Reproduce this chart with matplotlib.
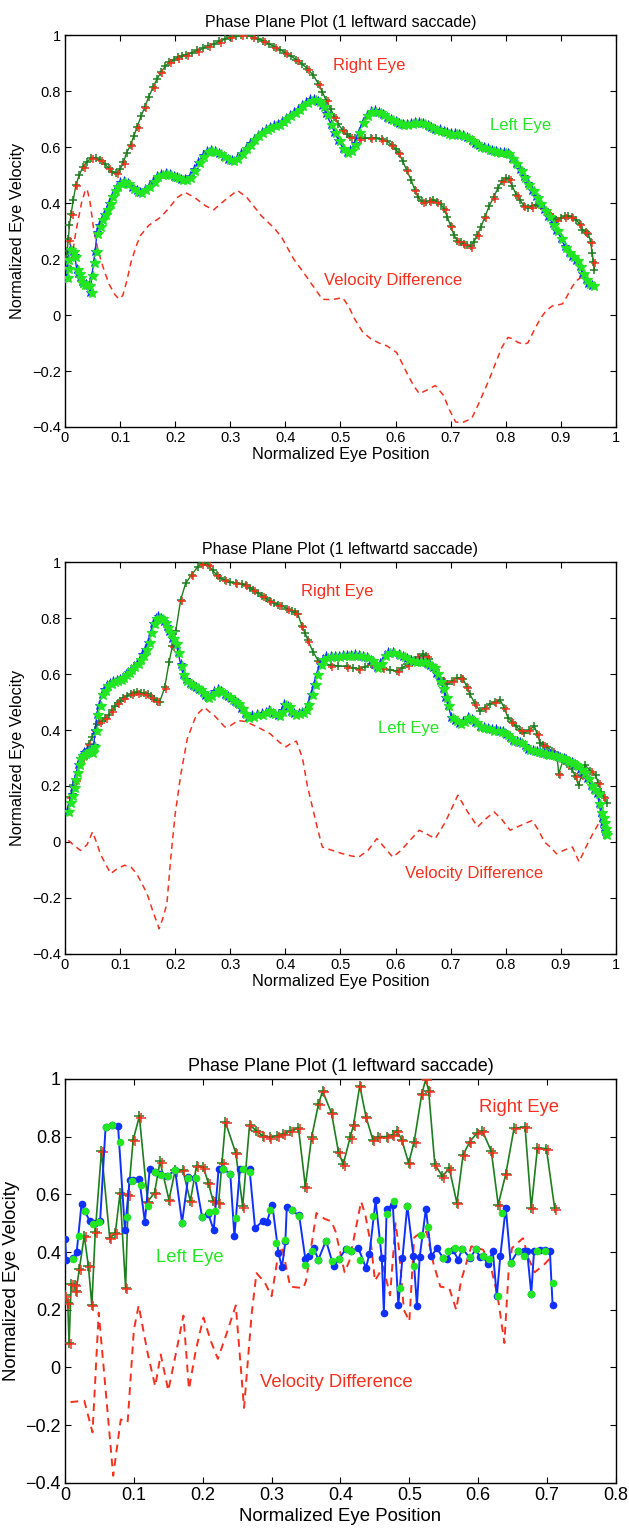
import numpy as np
import matplotlib
matplotlib.use("Agg")
import matplotlib.pyplot as plt
from matplotlib.transforms import offset_copy

plt.rcParams['font.family'] = ['Liberation Sans', 'DejaVu Sans']

# colours (MATLAB-like)
RED = "#f5301e"
DKGREEN = "#1e7d1e"
LTGREEN = "#22e622"
BLUE = "#1030ff"

# ---------------- panel 1 data (position, velocity) ----------------
p1_right = np.array([
    [0.002, 0.20], [0.004, 0.23], [0.006, 0.27], [0.008, 0.32], [0.011, 0.36], [0.015, 0.41],
    [0.020, 0.466], [0.026, 0.50], [0.033, 0.53], [0.040, 0.548], [0.048, 0.56], [0.056, 0.56],
    [0.064, 0.554], [0.072, 0.54], [0.079, 0.525], [0.086, 0.51], [0.093, 0.507], [0.100, 0.52],
    [0.106, 0.545], [0.112, 0.58], [0.119, 0.607], [0.125, 0.64], [0.131, 0.672], [0.138, 0.71],
    [0.145, 0.743], [0.152, 0.78], [0.160, 0.814], [0.167, 0.843], [0.174, 0.867], [0.182, 0.888],
    [0.189, 0.903], [0.197, 0.912], [0.205, 0.92], [0.213, 0.925], [0.220, 0.93], [0.230, 0.937],
    [0.240, 0.945], [0.250, 0.952], [0.260, 0.96], [0.270, 0.968], [0.280, 0.977], [0.290, 0.985],
    [0.300, 0.993], [0.310, 0.998], [0.320, 1.0], [0.330, 0.999], [0.340, 0.995], [0.350, 0.987],
    [0.360, 0.979], [0.370, 0.969], [0.380, 0.958], [0.390, 0.948], [0.400, 0.937], [0.410, 0.925],
    [0.420, 0.912], [0.430, 0.897], [0.440, 0.88], [0.450, 0.858], [0.460, 0.826], [0.467, 0.797],
    [0.474, 0.767], [0.482, 0.737], [0.489, 0.708], [0.496, 0.682], [0.504, 0.66], [0.511, 0.645],
    [0.518, 0.637], [0.526, 0.633], [0.535, 0.631], [0.545, 0.631], [0.555, 0.632], [0.565, 0.631],
    [0.575, 0.627], [0.585, 0.62], [0.593, 0.608], [0.600, 0.592], [0.606, 0.578], [0.613, 0.55],
    [0.620, 0.518], [0.628, 0.483], [0.635, 0.447], [0.641, 0.42], [0.648, 0.406], [0.655, 0.402],
    [0.662, 0.408], [0.668, 0.412], [0.675, 0.405], [0.682, 0.395], [0.688, 0.38], [0.694, 0.35],
    [0.700, 0.317], [0.706, 0.285], [0.712, 0.265], [0.718, 0.26], [0.724, 0.255], [0.730, 0.25],
    [0.736, 0.245], [0.742, 0.26], [0.748, 0.285], [0.755, 0.315], [0.762, 0.35], [0.770, 0.39],
    [0.778, 0.42], [0.786, 0.455], [0.794, 0.48], [0.800, 0.489], [0.806, 0.485], [0.812, 0.46],
    [0.819, 0.43], [0.826, 0.41], [0.833, 0.39], [0.840, 0.382], [0.847, 0.388], [0.854, 0.394],
    [0.862, 0.394], [0.870, 0.38], [0.877, 0.364], [0.885, 0.35], [0.892, 0.341], [0.900, 0.345],
    [0.907, 0.352], [0.913, 0.355], [0.920, 0.35], [0.928, 0.341], [0.934, 0.325], [0.939, 0.305],
    [0.945, 0.298], [0.950, 0.29], [0.954, 0.26], [0.957, 0.22], [0.959, 0.19], [0.961, 0.162],
])

p1_left = np.array([
    [0.003, 0.137], [0.004, 0.17], [0.005, 0.20], [0.009, 0.237], [0.014, 0.23], [0.018, 0.213],
    [0.021, 0.166], [0.024, 0.15], [0.027, 0.137], [0.030, 0.12], [0.033, 0.113], [0.038, 0.11],
    [0.043, 0.107], [0.046, 0.083], [0.049, 0.142], [0.052, 0.19], [0.055, 0.23], [0.058, 0.295],
    [0.062, 0.32], [0.067, 0.343], [0.071, 0.36], [0.076, 0.379], [0.080, 0.40], [0.085, 0.426],
    [0.090, 0.447], [0.094, 0.462], [0.100, 0.474], [0.107, 0.48], [0.114, 0.472], [0.122, 0.456],
    [0.130, 0.445], [0.137, 0.441], [0.145, 0.45], [0.152, 0.462], [0.160, 0.48], [0.167, 0.497],
    [0.175, 0.505], [0.183, 0.509], [0.190, 0.505], [0.197, 0.498], [0.204, 0.493], [0.211, 0.487],
    [0.218, 0.485], [0.226, 0.495], [0.234, 0.52], [0.242, 0.548], [0.250, 0.57], [0.258, 0.585],
    [0.265, 0.59], [0.272, 0.587], [0.280, 0.578], [0.288, 0.567], [0.296, 0.558], [0.304, 0.553],
    [0.312, 0.56], [0.320, 0.578], [0.328, 0.598], [0.335, 0.613], [0.343, 0.63], [0.350, 0.643],
    [0.357, 0.654], [0.365, 0.664], [0.372, 0.672], [0.380, 0.678], [0.387, 0.684], [0.394, 0.693],
    [0.401, 0.703], [0.408, 0.714], [0.416, 0.725], [0.423, 0.737], [0.430, 0.75], [0.438, 0.761],
    [0.445, 0.77], [0.452, 0.773], [0.460, 0.765], [0.467, 0.749], [0.474, 0.72], [0.482, 0.684],
    [0.489, 0.655], [0.496, 0.625], [0.504, 0.598], [0.511, 0.583], [0.518, 0.59], [0.526, 0.613],
    [0.533, 0.655], [0.540, 0.69], [0.548, 0.715], [0.555, 0.728], [0.562, 0.731], [0.570, 0.726],
    [0.577, 0.717], [0.584, 0.708], [0.592, 0.70], [0.600, 0.692], [0.607, 0.687], [0.613, 0.684],
    [0.620, 0.684], [0.628, 0.687], [0.635, 0.69], [0.643, 0.69], [0.650, 0.686], [0.658, 0.678],
    [0.665, 0.671], [0.672, 0.666], [0.680, 0.663], [0.687, 0.658], [0.694, 0.652], [0.700, 0.649],
    [0.708, 0.65], [0.715, 0.648], [0.722, 0.643], [0.730, 0.637], [0.738, 0.626], [0.745, 0.614],
    [0.752, 0.606], [0.760, 0.601], [0.768, 0.595], [0.775, 0.59], [0.782, 0.585], [0.789, 0.583],
    [0.797, 0.583], [0.804, 0.578], [0.811, 0.562], [0.818, 0.542], [0.826, 0.52], [0.833, 0.495],
    [0.840, 0.47], [0.848, 0.447], [0.855, 0.424], [0.862, 0.40], [0.870, 0.377], [0.877, 0.353],
    [0.885, 0.327], [0.892, 0.304], [0.900, 0.275], [0.907, 0.245], [0.914, 0.225], [0.921, 0.21],
    [0.928, 0.198], [0.934, 0.175], [0.939, 0.15], [0.945, 0.128], [0.950, 0.115], [0.957, 0.107],
])

p1_diff = np.array([
    [0.006, 0.12], [0.012, 0.20], [0.020, 0.30], [0.030, 0.40], [0.036, 0.44], [0.040, 0.45],
    [0.045, 0.41], [0.052, 0.308], [0.060, 0.23], [0.070, 0.166], [0.080, 0.11], [0.091, 0.072],
    [0.098, 0.057], [0.105, 0.07], [0.112, 0.12], [0.120, 0.19], [0.130, 0.25], [0.137, 0.284],
    [0.152, 0.32], [0.174, 0.35], [0.190, 0.385], [0.204, 0.42], [0.218, 0.438], [0.235, 0.42],
    [0.255, 0.39], [0.270, 0.376], [0.290, 0.41], [0.313, 0.445], [0.330, 0.42], [0.357, 0.353],
    [0.380, 0.31], [0.394, 0.275], [0.415, 0.20], [0.438, 0.138], [0.455, 0.09], [0.467, 0.056],
    [0.485, 0.055], [0.504, 0.062], [0.515, 0.03], [0.526, -0.015], [0.540, -0.06], [0.555, -0.085],
    [0.570, -0.10], [0.584, -0.11], [0.602, -0.134], [0.610, -0.165], [0.620, -0.205], [0.632, -0.25],
    [0.643, -0.281], [0.655, -0.27], [0.672, -0.252], [0.687, -0.287], [0.698, -0.34], [0.709, -0.382],
    [0.720, -0.385], [0.738, -0.37], [0.750, -0.32], [0.760, -0.275], [0.772, -0.22], [0.782, -0.169],
    [0.793, -0.115], [0.804, -0.08], [0.813, -0.085], [0.822, -0.098], [0.833, -0.104], [0.840, -0.10],
    [0.850, -0.06], [0.862, -0.015], [0.873, 0.015], [0.884, 0.032], [0.893, 0.035], [0.903, 0.04],
    [0.912, 0.07], [0.921, 0.103], [0.930, 0.125], [0.939, 0.138], [0.950, 0.144],
])

# ---------------- panel 2 data ----------------
p2_right = np.array([
    [0.009, 0.161], [0.015, 0.203], [0.020, 0.221], [0.027, 0.28], [0.032, 0.30], [0.037, 0.321],
    [0.043, 0.35], [0.049, 0.374], [0.054, 0.40], [0.058, 0.421], [0.062, 0.428], [0.067, 0.433],
    [0.073, 0.443], [0.079, 0.453], [0.085, 0.47], [0.091, 0.486], [0.096, 0.496], [0.100, 0.504],
    [0.106, 0.514], [0.113, 0.522], [0.120, 0.528], [0.126, 0.532], [0.131, 0.534], [0.138, 0.533],
    [0.144, 0.531], [0.150, 0.528], [0.156, 0.52], [0.162, 0.51], [0.167, 0.505], [0.172, 0.501],
    [0.181, 0.552], [0.189, 0.643], [0.195, 0.70], [0.201, 0.753], [0.210, 0.865], [0.219, 0.924],
    [0.230, 0.955], [0.241, 0.983], [0.248, 0.995], [0.254, 1.0], [0.260, 0.99], [0.268, 0.97],
    [0.275, 0.955], [0.281, 0.944], [0.290, 0.935], [0.299, 0.927], [0.310, 0.925], [0.321, 0.923],
    [0.328, 0.917], [0.335, 0.909], [0.342, 0.90], [0.350, 0.89], [0.358, 0.88], [0.365, 0.87],
    [0.372, 0.861], [0.380, 0.853], [0.387, 0.848], [0.394, 0.843], [0.403, 0.834], [0.412, 0.825],
    [0.418, 0.82], [0.423, 0.813], [0.430, 0.771], [0.436, 0.745], [0.441, 0.72], [0.450, 0.68],
    [0.460, 0.646], [0.470, 0.636], [0.482, 0.631], [0.495, 0.629], [0.511, 0.627], [0.522, 0.623],
    [0.533, 0.619], [0.544, 0.625], [0.555, 0.636], [0.566, 0.628], [0.577, 0.621], [0.590, 0.615],
    [0.603, 0.61], [0.612, 0.622], [0.621, 0.634], [0.630, 0.645], [0.640, 0.66], [0.650, 0.67],
    [0.656, 0.664], [0.661, 0.652], [0.670, 0.62], [0.680, 0.587], [0.687, 0.575], [0.694, 0.563],
    [0.703, 0.575], [0.712, 0.587], [0.718, 0.586], [0.723, 0.581], [0.729, 0.555], [0.735, 0.527],
    [0.744, 0.495], [0.753, 0.468], [0.762, 0.48], [0.771, 0.492], [0.780, 0.50], [0.790, 0.506],
    [0.797, 0.48], [0.804, 0.444], [0.811, 0.43], [0.818, 0.414], [0.826, 0.40], [0.833, 0.388],
    [0.842, 0.40], [0.852, 0.414], [0.857, 0.385], [0.862, 0.355], [0.868, 0.347], [0.875, 0.339],
    [0.884, 0.325], [0.893, 0.309], [0.896, 0.244], [0.905, 0.297], [0.912, 0.28], [0.920, 0.262],
    [0.926, 0.235], [0.932, 0.203], [0.938, 0.24], [0.944, 0.274], [0.953, 0.255], [0.963, 0.239],
    [0.968, 0.21], [0.972, 0.18], [0.978, 0.16], [0.983, 0.14],
])

p2_left = np.array([
    [0.004, 0.111], [0.009, 0.144], [0.012, 0.17], [0.015, 0.197], [0.018, 0.225], [0.021, 0.25],
    [0.024, 0.28], [0.027, 0.30], [0.030, 0.31], [0.035, 0.32], [0.040, 0.327], [0.045, 0.33],
    [0.049, 0.321], [0.052, 0.345], [0.055, 0.40], [0.058, 0.457], [0.062, 0.49], [0.067, 0.528],
    [0.071, 0.545], [0.076, 0.56], [0.082, 0.568], [0.088, 0.576], [0.094, 0.579], [0.100, 0.582],
    [0.105, 0.59], [0.110, 0.599], [0.115, 0.608], [0.119, 0.617], [0.125, 0.628], [0.131, 0.641],
    [0.136, 0.655], [0.140, 0.67], [0.146, 0.69], [0.151, 0.714], [0.156, 0.75], [0.160, 0.783],
    [0.165, 0.80], [0.169, 0.806], [0.175, 0.80], [0.180, 0.788], [0.185, 0.77], [0.189, 0.752],
    [0.195, 0.73], [0.201, 0.711], [0.205, 0.68], [0.210, 0.634], [0.214, 0.60], [0.219, 0.581],
    [0.226, 0.568], [0.232, 0.56], [0.238, 0.553], [0.244, 0.546], [0.250, 0.535], [0.255, 0.525],
    [0.259, 0.518], [0.265, 0.525], [0.271, 0.538], [0.277, 0.546], [0.283, 0.54], [0.290, 0.53],
    [0.296, 0.522], [0.302, 0.513], [0.308, 0.505], [0.314, 0.498], [0.320, 0.48], [0.326, 0.462],
    [0.332, 0.447], [0.340, 0.452], [0.348, 0.457], [0.357, 0.459], [0.364, 0.465], [0.370, 0.471],
    [0.378, 0.462], [0.387, 0.453], [0.393, 0.47], [0.398, 0.494], [0.405, 0.485], [0.410, 0.468],
    [0.416, 0.459], [0.424, 0.46], [0.431, 0.465], [0.437, 0.475], [0.441, 0.494], [0.447, 0.53],
    [0.452, 0.565], [0.457, 0.60], [0.463, 0.637], [0.468, 0.655], [0.474, 0.663], [0.482, 0.665],
    [0.490, 0.665], [0.497, 0.666], [0.504, 0.667], [0.512, 0.668], [0.519, 0.669], [0.526, 0.67],
    [0.533, 0.668], [0.540, 0.665], [0.548, 0.661], [0.556, 0.65], [0.562, 0.635], [0.566, 0.625],
    [0.572, 0.64], [0.580, 0.668], [0.587, 0.679], [0.595, 0.678], [0.606, 0.673], [0.614, 0.665],
    [0.621, 0.656], [0.628, 0.649], [0.636, 0.647], [0.643, 0.646], [0.650, 0.646], [0.657, 0.64],
    [0.663, 0.633], [0.668, 0.625], [0.674, 0.605], [0.680, 0.577], [0.686, 0.55], [0.690, 0.518],
    [0.695, 0.49], [0.701, 0.447], [0.708, 0.435], [0.716, 0.426], [0.723, 0.432], [0.731, 0.447],
    [0.738, 0.44], [0.745, 0.428], [0.753, 0.414], [0.760, 0.41], [0.767, 0.407], [0.775, 0.402],
    [0.783, 0.402], [0.790, 0.398], [0.795, 0.395], [0.801, 0.385], [0.807, 0.374], [0.813, 0.366],
    [0.820, 0.36], [0.826, 0.357], [0.834, 0.345], [0.841, 0.333], [0.850, 0.328], [0.857, 0.325],
    [0.863, 0.322], [0.870, 0.319], [0.876, 0.316], [0.881, 0.314], [0.888, 0.311], [0.894, 0.307],
    [0.899, 0.303], [0.905, 0.299], [0.910, 0.295], [0.914, 0.291], [0.920, 0.285], [0.925, 0.279],
    [0.929, 0.274], [0.935, 0.262], [0.941, 0.25], [0.948, 0.228], [0.954, 0.203], [0.960, 0.19],
    [0.966, 0.174], [0.969, 0.14], [0.972, 0.108], [0.975, 0.09], [0.977, 0.073], [0.979, 0.05],
    [0.980, 0.038], [0.981, 0.028],
])

p2_diff = np.array([
    [0.006, 0.006], [0.015, -0.01], [0.028, -0.03], [0.040, -0.01], [0.050, 0.036], [0.057, 0.0],
    [0.064, -0.042], [0.074, -0.08], [0.083, -0.113], [0.095, -0.095], [0.108, -0.083], [0.120, -0.09],
    [0.130, -0.113], [0.140, -0.15], [0.149, -0.185], [0.160, -0.25], [0.171, -0.31], [0.178, -0.27],
    [0.185, -0.22], [0.192, -0.057], [0.200, 0.10], [0.210, 0.239], [0.222, 0.369], [0.238, 0.452],
    [0.253, 0.481], [0.262, 0.465], [0.271, 0.452], [0.290, 0.411], [0.300, 0.415], [0.314, 0.434],
    [0.328, 0.43], [0.350, 0.41], [0.372, 0.387], [0.390, 0.355], [0.401, 0.34], [0.412, 0.355],
    [0.420, 0.36], [0.431, 0.30], [0.440, 0.20], [0.449, 0.125], [0.458, 0.05], [0.467, -0.018],
    [0.485, -0.03], [0.504, -0.042], [0.520, -0.05], [0.533, -0.054], [0.550, -0.03], [0.566, 0.012],
    [0.580, -0.02], [0.595, -0.054], [0.610, -0.03], [0.628, 0.01], [0.643, 0.042], [0.655, 0.03],
    [0.672, 0.012], [0.690, 0.07], [0.713, 0.167], [0.730, 0.11], [0.749, 0.054], [0.765, 0.085],
    [0.779, 0.107], [0.793, 0.08], [0.808, 0.042], [0.828, 0.06], [0.848, 0.077], [0.860, 0.04],
    [0.870, 0.0], [0.882, -0.02], [0.892, -0.042], [0.905, -0.03], [0.921, -0.018], [0.933, -0.071],
    [0.945, -0.02], [0.958, 0.03], [0.972, 0.077],
])

# ---------------- panel 3 data ----------------
p3_right = np.array([
    [0.000, 0.25], [0.004, 0.224], [0.006, 0.084], [0.009, 0.289], [0.014, 0.285], [0.016, 0.266],
    [0.021, 0.343], [0.028, 0.457], [0.034, 0.351], [0.039, 0.216], [0.044, 0.471], [0.053, 0.75],
    [0.065, 0.448], [0.073, 0.465], [0.080, 0.605], [0.088, 0.276], [0.092, 0.598], [0.099, 0.789],
    [0.108, 0.87], [0.120, 0.575], [0.130, 0.605], [0.138, 0.714], [0.151, 0.581], [0.160, 0.683],
    [0.171, 0.685], [0.182, 0.576], [0.191, 0.699], [0.201, 0.693], [0.208, 0.64], [0.215, 0.578],
    [0.223, 0.57], [0.228, 0.71], [0.233, 0.85], [0.248, 0.743], [0.258, 0.558], [0.268, 0.841],
    [0.278, 0.82], [0.287, 0.803], [0.297, 0.797], [0.308, 0.803], [0.317, 0.809], [0.327, 0.82],
    [0.339, 0.829], [0.349, 0.627], [0.358, 0.797], [0.368, 0.912], [0.374, 0.958], [0.387, 0.881],
    [0.397, 0.748], [0.404, 0.704], [0.414, 0.797], [0.419, 0.841], [0.428, 0.977], [0.437, 0.869],
    [0.447, 0.789], [0.455, 0.80], [0.467, 0.80], [0.476, 0.806], [0.482, 0.82], [0.489, 0.789],
    [0.499, 0.708], [0.507, 0.783], [0.518, 0.947], [0.524, 1.0], [0.528, 0.958], [0.537, 0.704],
    [0.548, 0.662], [0.558, 0.69], [0.569, 0.57], [0.578, 0.737], [0.588, 0.783], [0.598, 0.812],
    [0.606, 0.82], [0.619, 0.749], [0.629, 0.564], [0.640, 0.67], [0.652, 0.829], [0.668, 0.833],
    [0.677, 0.553], [0.686, 0.762], [0.699, 0.758], [0.711, 0.551],
])

p3_left = np.array([
    [0.000, 0.446], [0.002, 0.374], [0.011, 0.379], [0.017, 0.40], [0.024, 0.566], [0.029, 0.541],
    [0.036, 0.507], [0.044, 0.501], [0.051, 0.507], [0.059, 0.835], [0.069, 0.839], [0.077, 0.838],
    [0.087, 0.478], [0.094, 0.65], [0.099, 0.65], [0.108, 0.652], [0.116, 0.504], [0.123, 0.687],
    [0.130, 0.679], [0.138, 0.67], [0.148, 0.664], [0.160, 0.683], [0.170, 0.502], [0.179, 0.661],
    [0.189, 0.658], [0.199, 0.522], [0.208, 0.532], [0.216, 0.476], [0.223, 0.687], [0.230, 0.687],
    [0.240, 0.671], [0.246, 0.454], [0.254, 0.687], [0.268, 0.687], [0.276, 0.483], [0.287, 0.507],
    [0.293, 0.503], [0.301, 0.564], [0.310, 0.397], [0.315, 0.347], [0.320, 0.437], [0.322, 0.555],
    [0.329, 0.544], [0.340, 0.527], [0.349, 0.376], [0.355, 0.385], [0.361, 0.414], [0.368, 0.374],
    [0.379, 0.44], [0.390, 0.35], [0.398, 0.376], [0.408, 0.412], [0.416, 0.405], [0.426, 0.414],
    [0.437, 0.345], [0.442, 0.393], [0.451, 0.579], [0.460, 0.379], [0.463, 0.189], [0.467, 0.549],
    [0.476, 0.564], [0.484, 0.218], [0.490, 0.379], [0.497, 0.561], [0.506, 0.385], [0.511, 0.213],
    [0.515, 0.382], [0.524, 0.55], [0.532, 0.385], [0.540, 0.414], [0.549, 0.379], [0.554, 0.376],
    [0.563, 0.408], [0.571, 0.374], [0.577, 0.412], [0.588, 0.379], [0.597, 0.411], [0.602, 0.382],
    [0.607, 0.385], [0.614, 0.357], [0.621, 0.405], [0.627, 0.247], [0.632, 0.385], [0.640, 0.554],
    [0.647, 0.363], [0.658, 0.405], [0.667, 0.402], [0.671, 0.402], [0.677, 0.255], [0.681, 0.402],
    [0.689, 0.406], [0.697, 0.408], [0.704, 0.405], [0.708, 0.216],
])

# second (green dot) samples of the left eye
p3_left_dots = np.array([
    [0.011, 0.376], [0.020, 0.457], [0.029, 0.541], [0.041, 0.497], [0.050, 0.504], [0.060, 0.832],
    [0.069, 0.839], [0.080, 0.783], [0.090, 0.523], [0.098, 0.647], [0.110, 0.633], [0.120, 0.561],
    [0.130, 0.679], [0.139, 0.668], [0.149, 0.662], [0.160, 0.683], [0.170, 0.502], [0.179, 0.658],
    [0.190, 0.658], [0.199, 0.521], [0.209, 0.538], [0.218, 0.541], [0.229, 0.687], [0.239, 0.671],
    [0.248, 0.518], [0.259, 0.687], [0.269, 0.679], [0.298, 0.547], [0.307, 0.433], [0.319, 0.441],
    [0.329, 0.544], [0.340, 0.526], [0.349, 0.356], [0.358, 0.405], [0.368, 0.374], [0.379, 0.44],
    [0.388, 0.37], [0.398, 0.376], [0.409, 0.412], [0.416, 0.405], [0.428, 0.374], [0.447, 0.526],
    [0.458, 0.443], [0.467, 0.531], [0.478, 0.577], [0.487, 0.274], [0.497, 0.561], [0.507, 0.352],
    [0.517, 0.458], [0.527, 0.487], [0.549, 0.379], [0.556, 0.405], [0.567, 0.415], [0.577, 0.412],
    [0.588, 0.382], [0.597, 0.411], [0.607, 0.385], [0.616, 0.377], [0.628, 0.247], [0.634, 0.535],
    [0.647, 0.363], [0.658, 0.405], [0.666, 0.385], [0.676, 0.256], [0.685, 0.402], [0.697, 0.405],
    [0.708, 0.294],
])

p3_diff = np.array([
    [0.008, -0.12], [0.028, -0.115], [0.040, -0.225], [0.049, 0.19], [0.058, -0.05], [0.070, -0.375],
    [0.081, -0.18], [0.091, -0.19], [0.100, 0.13], [0.107, 0.215], [0.120, 0.05], [0.131, -0.065],
    [0.139, 0.045], [0.150, -0.08], [0.162, 0.06], [0.172, 0.18], [0.180, -0.075], [0.190, 0.06],
    [0.201, 0.173], [0.212, 0.09], [0.222, 0.03], [0.235, 0.12], [0.248, 0.215], [0.260, -0.14],
    [0.271, 0.185], [0.278, 0.327], [0.290, 0.295], [0.300, 0.247], [0.308, 0.368], [0.315, 0.42],
    [0.327, 0.28], [0.346, 0.275], [0.350, 0.30], [0.365, 0.535], [0.377, 0.515], [0.387, 0.506],
    [0.393, 0.47], [0.406, 0.33], [0.413, 0.37], [0.430, 0.575], [0.436, 0.53], [0.445, 0.414],
    [0.450, 0.30], [0.462, 0.35], [0.472, 0.25], [0.480, 0.50], [0.485, 0.41], [0.492, 0.20],
    [0.500, 0.16], [0.507, 0.45], [0.518, 0.47], [0.525, 0.47], [0.535, 0.36], [0.545, 0.28],
    [0.558, 0.275], [0.568, 0.20], [0.575, 0.30], [0.590, 0.42], [0.607, 0.408], [0.617, 0.362],
    [0.628, 0.25], [0.638, 0.085], [0.644, 0.33], [0.649, 0.414], [0.665, 0.448], [0.673, 0.378],
    [0.682, 0.33], [0.695, 0.355], [0.705, 0.38],
])

titles = ["Phase Plane Plot (1 leftward saccade)",
          "Phase Plane Plot (1 leftwartd saccade)",
          "Phase Plane Plot (1 leftward saccade)"]
xticks_12 = [0, 0.1, 0.2, 0.3, 0.4, 0.5, 0.6, 0.7, 0.8, 0.9, 1]
xticks_3 = [0, 0.1, 0.2, 0.3, 0.4, 0.5, 0.6, 0.7, 0.8]
yticks = [-0.4, -0.2, 0, 0.2, 0.4, 0.6, 0.8, 1]

# label positions (data coords): right eye, left eye, velocity difference
label_pos = [
    [(0.553, 0.891), (0.826, 0.678), (0.595, 0.123)],
    [(0.494, 0.895), (0.623, 0.405), (0.742, -0.113)],
    [(0.659, 0.902), (0.181, 0.382), (0.394, -0.052)],
]


def tick_text(v):
    return f"{round(v, 1):g}".replace("-", "\u2212")


fig = plt.figure(figsize=(6.29, 15.31), dpi=100)
axes = [fig.add_axes([0.1033, 0.7211, 0.8760, 0.2560]),
        fig.add_axes([0.1033, 0.3769, 0.8760, 0.2560]),
        fig.add_axes([0.1033, 0.0314, 0.8760, 0.2639])]

data = [(p1_right, p1_left, None, p1_diff),
        (p2_right, p2_left, None, p2_diff),
        (p3_right, p3_left, p3_left_dots, p3_diff)]

for i, (ax, (right, left, ldots, diff)) in enumerate(zip(axes, data)):
    big = (i == 2)
    fs_tick = 13 if big else 10.5
    fs_title = 13 if big else 11.5
    fs_xlab = 13.4 if big else 11.7
    fs_note = 13.3 if big else 12
    shift = offset_copy(ax.transData, fig=fig, x=1.5, y=-1.2, units="dots")

    # velocity difference
    ax.plot(diff[:, 0], diff[:, 1], "--", color=RED, lw=1.4 if big else 1.1,
            dashes=(4, 3), zorder=2)

    # right eye: dark green line with + plus red + samples
    ax.plot(right[:, 0], right[:, 1], "-+", color=DKGREEN, lw=1.2 if big else 1.0,
            ms=6.5 if big else 5.5, mew=1.1, zorder=3)
    ax.plot(right[:, 0], right[:, 1], "+", color=RED, ms=6.5 if big else 5.5, mew=1.1,
            transform=shift, markevery=1 if big else 2, zorder=4)

    # left eye
    if big:
        ax.plot(left[:, 0], left[:, 1], "-o", color=BLUE, lw=1.4, ms=4.5, mec=BLUE, zorder=5)
        ax.plot(ldots[:, 0], ldots[:, 1], "o", color=LTGREEN, ms=4.5, mec=LTGREEN, zorder=6)
    else:
        ax.plot(left[:, 0], left[:, 1], "-*", color=BLUE, lw=1.0, ms=6.5, mew=0.6, zorder=5)
        ax.plot(left[:, 0], left[:, 1], "*", color=LTGREEN, ms=7, mew=0.9,
                transform=shift, zorder=6)

    (rx, ry), (lx, ly), (dx, dy) = label_pos[i]
    ax.text(rx, ry, "Right Eye", color=RED, fontsize=fs_note, ha="center", va="center")
    ax.text(lx, ly, "Left Eye", color=LTGREEN, fontsize=fs_note, ha="center", va="center")
    ax.text(dx, dy, "Velocity Difference", color=RED, fontsize=fs_note, ha="center", va="center")

    xt = xticks_3 if big else xticks_12
    ax.set_xlim(xt[0], xt[-1])
    ax.set_ylim(-0.4, 1)
    ax.set_xticks(xt)
    ax.set_xticklabels([tick_text(v) for v in xt])
    ax.set_yticks(yticks)
    ax.set_yticklabels([tick_text(v) for v in yticks])
    ax.tick_params(direction="in", top=True, right=True, length=4, width=0.8,
                   labelsize=fs_tick, pad=3)
    for s in ax.spines.values():
        s.set_linewidth(1.0)
    ax.set_title(titles[i], fontsize=fs_title, pad=6)
    ax.set_xlabel("Normalized Eye Position", fontsize=fs_xlab, labelpad=3 if big else 1)
    ax.set_ylabel("Normalized Eye Velocity", fontsize=fs_xlab, labelpad=4 if big else 5)

fig.savefig("out.png", dpi=100)
